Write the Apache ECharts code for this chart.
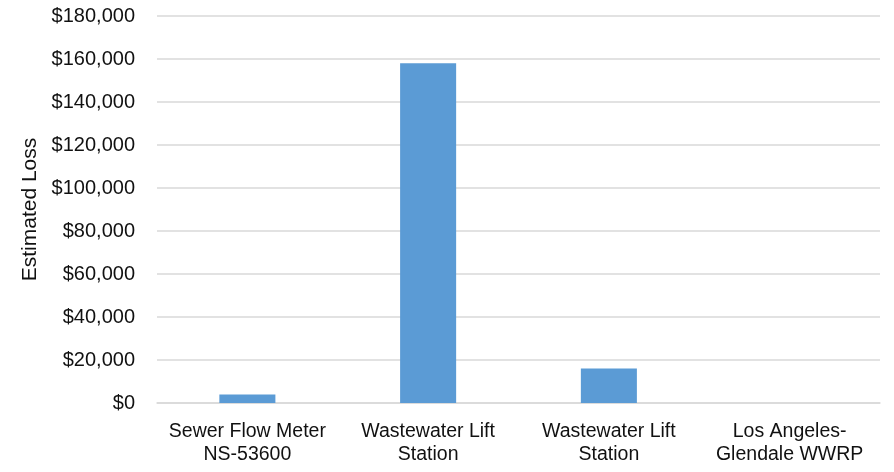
<!DOCTYPE html>
<html>
<head>
<meta charset="utf-8">
<script src="https://cdn.jsdelivr.net/npm/echarts@6/dist/echarts.min.js"></script>
<style>
  html, body { margin: 0; padding: 0; background: #fff; }
  #chart { width: 894px; height: 472px; }
</style>
</head>
<body>
<div id="chart"></div>
<script>
// Facility names shown along the category axis
const categories = [
  'Sewer Flow Meter\nNS-53600',
  'Wastewater Lift\nStation',
  'Wastewater Lift\nStation',
  'Los Angeles-\nGlendale WWRP'
];
// Estimated loss per facility, in dollars
const lossValues = [4000, 158000, 16000, 0];

// Value-axis range
const yMin = 0;
const yMax = 180000;
const yStep = 20000;

const fontFamily = '"Liberation Sans", Arial, sans-serif';

const chart = echarts.init(document.getElementById('chart'));
chart.setOption({
  animation: false,
  grid: { left: 157, right: 14, top: 16, bottom: 69 },
  xAxis: {
    type: 'category',
    data: categories,
    axisLine: { show: true, lineStyle: { color: '#d9d9d9', width: 1.5 } },
    axisTick: { show: false },
    axisLabel: {
      color: '#111',
      fontFamily: fontFamily,
      fontSize: 19.5,
      lineHeight: 23,
      margin: 17,
      interval: 0
    }
  },
  yAxis: {
    type: 'value',
    min: yMin,
    max: yMax,
    interval: yStep,
    name: 'Estimated Loss',
    nameLocation: 'middle',
    nameGap: 116,
    nameRotate: 90,
    nameTextStyle: { color: '#111', fontFamily: fontFamily, fontSize: 21 },
    axisLine: { show: false },
    axisTick: { show: false },
    splitLine: { lineStyle: { color: '#d9d9d9', width: 1.5 } },
    axisLabel: {
      color: '#111',
      fontFamily: fontFamily,
      fontSize: 20,
      margin: 22,
      formatter: function (v) {
        return '$' + v.toLocaleString('en-US');
      }
    }
  },
  series: [{
    type: 'bar',
    data: lossValues,
    barWidth: '31%',
    itemStyle: { color: '#5b9bd5' }
  }]
});
</script>
</body>
</html>
